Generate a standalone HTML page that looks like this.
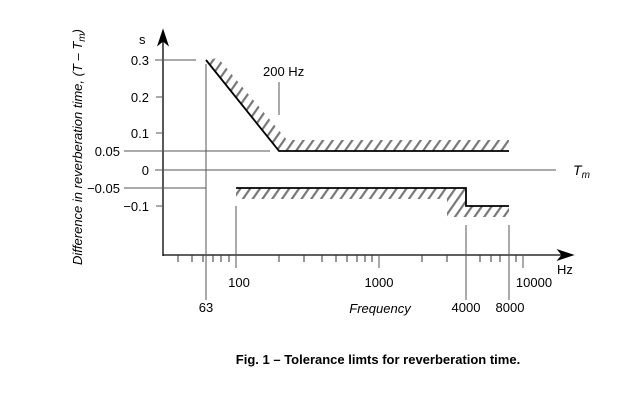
<!DOCTYPE html>
<html><head><style>body{margin:0;background:#fff}svg{display:block}</style></head><body>
<svg width="633" height="411" viewBox="0 0 633 411" font-family="Liberation Sans, sans-serif" font-size="13" fill="#000">
<defs>
<pattern id="h" patternUnits="userSpaceOnUse" width="8" height="8" patternTransform="rotate(35)">
<rect x="0" y="0" width="2.2" height="8" fill="#777"/>
</pattern>
</defs>
<polygon points="206,60 218,58 287,140 509,140 509,151 279,151" fill="url(#h)"/>
<polygon points="236,188 466,188 466,206 509,206 509,217 447,217 447,199 236,199" fill="url(#h)"/>
<g stroke="#000" fill="none">
<line x1="163" y1="256" x2="163" y2="40" stroke-width="1.3"/>
<polygon points="163,30 158,45 163,41 168,45" fill="#000"/>
<line x1="163" y1="255" x2="565" y2="255" stroke-width="1.3"/>
<polygon points="573,255 558,250 562,255 558,260" fill="#000"/>
<g stroke="#555" stroke-width="1">
<line x1="155" y1="170" x2="556" y2="170"/>
<line x1="124" y1="151" x2="270" y2="151"/>
<line x1="124" y1="188" x2="206" y2="188"/>
<line x1="155" y1="60" x2="196" y2="60"/>
<line x1="156" y1="97" x2="163" y2="97"/>
<line x1="156" y1="133" x2="163" y2="133"/>
<line x1="156" y1="206" x2="163" y2="206"/>
<line x1="206" y1="64" x2="206" y2="300"/>
<line x1="236" y1="206" x2="236" y2="268"/>
<line x1="466" y1="225" x2="466" y2="300"/>
<line x1="509" y1="225" x2="509" y2="300"/>
<line x1="523" y1="255" x2="523" y2="268"/>
<line x1="379" y1="255" x2="379" y2="268"/>
<line x1="279" y1="82" x2="279" y2="115"/>
</g>
<g stroke="#333" stroke-width="1">
<line x1="178" y1="255" x2="178" y2="262"/><line x1="192" y1="255" x2="192" y2="262"/><line x1="203" y1="255" x2="203" y2="262"/><line x1="213" y1="255" x2="213" y2="262"/><line x1="221" y1="255" x2="221" y2="262"/><line x1="229" y1="255" x2="229" y2="262"/>
<line x1="279" y1="255" x2="279" y2="262"/><line x1="304" y1="255" x2="304" y2="262"/><line x1="322" y1="255" x2="322" y2="262"/><line x1="336" y1="255" x2="336" y2="262"/><line x1="347" y1="255" x2="347" y2="262"/><line x1="357" y1="255" x2="357" y2="262"/><line x1="365" y1="255" x2="365" y2="262"/><line x1="372" y1="255" x2="372" y2="262"/>
<line x1="422" y1="255" x2="422" y2="262"/><line x1="447" y1="255" x2="447" y2="262"/><line x1="480" y1="255" x2="480" y2="262"/><line x1="491" y1="255" x2="491" y2="262"/><line x1="500" y1="255" x2="500" y2="262"/><line x1="516" y1="255" x2="516" y2="262"/>
</g>
<polyline points="206,60 279,151 509,151" stroke-width="1.8"/>
<polyline points="236,188 466,188 466,206 509,206" stroke-width="1.8"/>
</g>
<g text-anchor="end">
<text x="149" y="65">0.3</text><text x="149" y="102">0.2</text><text x="149" y="138">0.1</text>
<text x="120" y="156">0.05</text><text x="149" y="175">0</text><text x="120" y="193">−0.05</text><text x="149" y="211">−0.1</text>
</g>
<text x="139" y="44">s</text>
<text x="263" y="76">200 Hz</text>
<text x="573" y="175" font-style="italic" font-size="14">T<tspan font-size="10" dy="3">m</tspan></text>
<text x="557" y="274">Hz</text>
<g text-anchor="middle">
<text x="239" y="287">100</text><text x="379" y="287">1000</text><text x="534" y="287">10000</text>
<text x="206" y="312">63</text><text x="466" y="312">4000</text><text x="510" y="312">8000</text>
<text x="380" y="313" font-style="italic">Frequency</text>
<text x="378" y="364" font-weight="bold">Fig. 1 – Tolerance limts for reverberation time.</text>
</g>
<text transform="translate(82,147) rotate(-90)" text-anchor="middle" font-style="italic">Difference in reverberation time, (T – T<tspan font-size="10" dy="3">m</tspan><tspan dy="-3">)</tspan></text>
</svg>
</body></html>
